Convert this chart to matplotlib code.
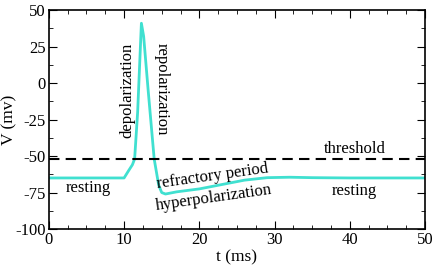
import matplotlib
matplotlib.use("Agg")
import matplotlib.pyplot as plt
from matplotlib.ticker import MultipleLocator

plt.rcParams['font.family'] = ['Liberation Serif', 'DejaVu Serif']
plt.rcParams['axes.unicode_minus'] = False

# action potential trace
t_ms = [0, 5, 10, 10.6, 11.1, 11.4, 11.8, 12.3, 12.6, 13.2, 14.0, 14.6, 15.0, 15.5,
        17, 20, 23, 26, 29, 32, 35, 40, 45, 50]
v_mv = [-65, -65, -65, -60, -56, -52, -20, 41, 32, -5, -52, -70, -75, -76,
        -74.5, -72.5, -69.5, -66.5, -64.8, -64.5, -64.8, -65, -65, -65]
threshold = -52

fig = plt.figure(figsize=(4.36, 2.73), dpi=100)
ax = fig.add_axes([0.112, 0.161, 0.863, 0.802])

ax.plot(t_ms, v_mv, color='#40E0D0', lw=2)
ax.axhline(threshold, color='black', lw=1.5, dashes=(5, 3))

ax.xaxis.set_major_locator(MultipleLocator(10))
ax.xaxis.set_minor_locator(MultipleLocator(2.5))
ax.yaxis.set_major_locator(MultipleLocator(25))
ax.yaxis.set_minor_locator(MultipleLocator(12.5))
ax.set_xlim(0, 50)
ax.set_ylim(-100, 50)
ax.tick_params(which='both', direction='in', top=True, right=True, labelsize=12)
ax.tick_params(which='major', length=6, pad=2)
ax.tick_params(which='minor', length=3)
for s in ax.spines.values():
    s.set_linewidth(1.2)

ax.set_xlabel('t (ms)', fontsize=12.5, labelpad=1)
ax.set_ylabel('V (mv)', fontsize=12.5, labelpad=-1)

fs = 12
ax.text(5.2, -72, 'resting', fontsize=fs, ha='center', va='center')
ax.text(40.6, -74, 'resting', fontsize=fs, ha='center', va='center')
ax.text(40.7, -45, 'threshold', fontsize=fs, ha='center', va='center')
ax.text(10.5, -5, 'depolarization', fontsize=fs, rotation=90, ha='center', va='center')
ax.text(15.0, -4, 'repolarization', fontsize=fs, rotation=-90, ha='center', va='center')
ax.text(21.8, -63.5, 'refractory period', fontsize=fs, rotation=8, ha='center', va='center')
ax.text(22.0, -79, 'hyperpolarization', fontsize=fs, rotation=8, ha='center', va='center')

fig.savefig('out.png', dpi=100)
